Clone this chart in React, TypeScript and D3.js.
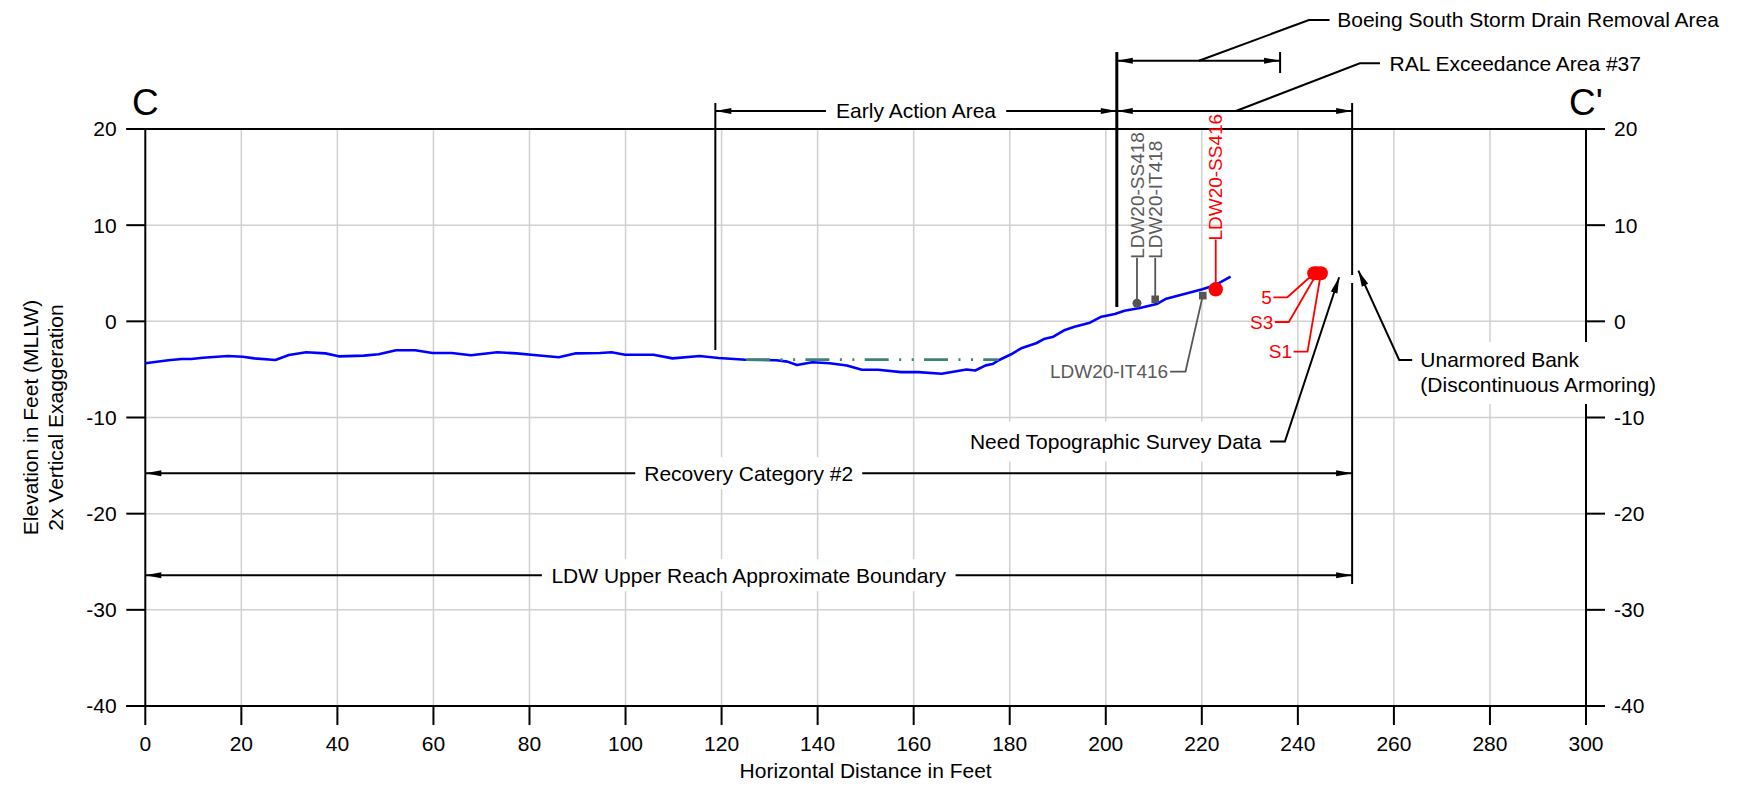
import React from 'react';
import * as d3 from 'd3';

const FONT = '"Liberation Sans", Arial, Helvetica, sans-serif';

// ---------- data ----------
const profileDistance = [0, 4.8, 7.6, 9.6, 12.0, 17.2, 20.3, 22.7, 27.1, 29.9, 33.5, 37.5, 40.3, 45.5, 48.6, 52.2, 56.2, 59.8, 63.8, 67.8, 73.3, 77.3, 80.9, 86.1, 89.7, 94.7, 97.1, 99.9, 105.8, 109.8, 115.4, 119.4, 125.0, 131.4, 133.7, 135.7, 138.9, 142.5, 146.1, 149.2, 152.6, 157.4, 161.0, 165.8, 171.0, 172.8, 175.0, 176.4, 177.8, 180.2, 182.4, 185.5, 187.1, 189.1, 191.5, 193.5, 196.7, 199.1, 201.9, 203.9, 207.1, 210.6, 212.6, 220.1, 222.9, 226.0];
const profileElevation = [-4.36, -4.05, -3.92, -3.92, -3.78, -3.6, -3.68, -3.85, -4.02, -3.5, -3.22, -3.33, -3.64, -3.57, -3.43, -3.01, -3.01, -3.29, -3.29, -3.53, -3.22, -3.33, -3.5, -3.74, -3.33, -3.29, -3.22, -3.47, -3.47, -3.85, -3.6, -3.81, -4.0, -4.04, -4.19, -4.54, -4.25, -4.36, -4.6, -5.04, -5.04, -5.28, -5.28, -5.45, -5.0, -5.11, -4.58, -4.44, -4.02, -3.45, -2.8, -2.28, -1.84, -1.6, -0.9, -0.56, -0.14, 0.48, 0.76, 1.1, 1.39, 1.8, 2.35, 3.33, 3.78, 4.64];

const dredgeDistance = [125.1, 177.6];
const dredgeElevation = [-3.98, -3.98];

const xTicks = [0, 20, 40, 60, 80, 100, 120, 140, 160, 180, 200, 220, 240, 260, 280, 300];
const yTicks = [20, 10, 0, -10, -20, -30, -40];

const sampleNames = ['LDW20-SS418', 'LDW20-IT418', 'LDW20-IT416', 'LDW20-SS416'];
const sampleDistance = [206.5, 210.3, 220.2, 222.9];
const sampleElevation = [1.88, 2.29, 2.67, 3.33];
const sampleShape = ['circle', 'square', 'square', 'bigcircle'];

const bankNames = ['5', 'S3', 'S1'];
const bankDistance = [243.4, 244.0, 244.8];
const bankElevation = [5.0, 5.0, 5.0];
const bankLabelDistance = [234.9, 235.2, 239.1];
const bankLabelElevation = [2.5, -0.07, -3.16];

const earlyActionSpan = [118.7, 202.3];
const ralSpan = [202.3, 251.3];
const boeingSpan = [202.3, 236.3];
const recoverySpan = [0, 251.3];
const ldwSpan = [0, 251.3];

// ---------- layout ----------
const W = 1737, H = 789;
const xs = d3.scaleLinear().domain([0, 300]).range([145.3, 1586]);
const ys = d3.scaleLinear().domain([-40, 20]).range([706, 129]);

let ctx: CanvasRenderingContext2D | null = null;
function textWidth(s: string, size: number) {
  if (!ctx) {
    const c = document.createElement('canvas');
    ctx = c.getContext('2d');
  }
  if (!ctx) return s.length * size * 0.55;
  ctx.font = `${size}px ${FONT}`;
  return ctx.measureText(s).width;
}

function Arrow({ tip, from, L = 16, hw = 3 }: { tip: number[]; from: number[]; L?: number; hw?: number }) {
  const dx = tip[0] - from[0], dy = tip[1] - from[1];
  const len = Math.hypot(dx, dy);
  const ux = dx / len, uy = dy / len;
  const bx = tip[0] - ux * L, by = tip[1] - uy * L;
  const px = -uy, py = ux;
  return (
    <polygon
      points={`${tip[0]},${tip[1]} ${bx + px * hw},${by + py * hw} ${bx - px * hw},${by - py * hw}`}
      fill="#000"
    />
  );
}

function DimLine({ x1, x2, y, label, size = 21 }: { x1: number; x2: number; y: number; label?: string; size?: number }) {
  const mid = (x1 + x2) / 2;
  const tw = label ? textWidth(label, size) : 0;
  return (
    <g>
      <line x1={x1} x2={x2} y1={y} y2={y} stroke="#000" strokeWidth={2} />
      <Arrow tip={[x1, y]} from={[x2, y]} />
      <Arrow tip={[x2, y]} from={[x1, y]} />
      {label && (
        <>
          <rect x={mid - tw / 2 - 9} y={y - 16} width={tw + 18} height={32} fill="#fff" />
          <text x={mid} y={y} dy="0.35em" textAnchor="middle" fontSize={size} fontFamily={FONT} fill="#000">
            {label}
          </text>
        </>
      )}
    </g>
  );
}

export default function App() {
  const x0 = xs(0), x300 = xs(300), yTop = ys(20), yBot = ys(-40);
  const tick = 19;
  const line = d3
    .line<number>()
    .x((_, i) => xs(profileDistance[i]))
    .y((_, i) => ys(profileElevation[i]));
  const profilePath = line(profileDistance) || '';
  const dredgePath =
    d3
      .line<number>()
      .x((_, i) => xs(dredgeDistance[i]))
      .y((_, i) => ys(dredgeElevation[i]))(dredgeDistance) || '';

  const gray = '#555555';
  const red = '#ff0000';

  const needTopo = 'Need Topographic Survey Data';
  const needW = textWidth(needTopo, 21);
  const needRight = xs(232.4);
  const needY = ys(-12.5);
  const unarm1 = 'Unarmored Bank';
  const unarm2 = '(Discontinuous Armoring)';
  const unX = xs(265.5);
  const unY1 = ys(-4.02);
  const unY2 = unY1 + 25;
  const unW = Math.max(textWidth(unarm1, 21), textWidth(unarm2, 21));

  const yDimEA = ys(21.87);
  const yDimBoeing = ys(27.1);

  return (
    <svg width={W} height={H} style={{ position: 'absolute', left: 0, top: 0, background: '#fff' }} fontFamily={FONT}>
      <rect x={0} y={0} width={W} height={H} fill="#fff" />
      {/* grid */}
      <g stroke="#d0d0d0" strokeWidth={1.5}>
        {xTicks.filter((v) => v > 0 && v < 300).map((v) => (
          <line key={'gx' + v} x1={xs(v)} x2={xs(v)} y1={yTop} y2={yBot} />
        ))}
        {yTicks.filter((v) => v > -40 && v < 20).map((v) => (
          <line key={'gy' + v} x1={x0} x2={x300} y1={ys(v)} y2={ys(v)} />
        ))}
      </g>
      {/* frame & ticks */}
      <g stroke="#000" strokeWidth={2}>
        <line x1={x0 - tick} x2={x300 + tick} y1={yTop} y2={yTop} />
        <line x1={x0 - tick} x2={x300 + tick} y1={yBot} y2={yBot} />
        <line x1={x0} x2={x0} y1={yTop} y2={yBot} />
        <line x1={x300} x2={x300} y1={yTop} y2={yBot} />
        {yTicks.map((v) => (
          <g key={'ty' + v}>
            <line x1={x0 - tick} x2={x0} y1={ys(v)} y2={ys(v)} />
            <line x1={x300} x2={x300 + tick} y1={ys(v)} y2={ys(v)} />
          </g>
        ))}
        {xTicks.map((v) => (
          <line key={'tx' + v} x1={xs(v)} x2={xs(v)} y1={yBot} y2={yBot + tick} />
        ))}
      </g>
      {/* tick labels */}
      <g fontSize={21} fill="#000">
        {yTicks.map((v) => (
          <g key={'ly' + v}>
            <text x={x0 - 28.6} y={ys(v)} dy="0.35em" textAnchor="end">{v}</text>
            <text x={x300 + 28} y={ys(v)} dy="0.35em" textAnchor="start">{v}</text>
          </g>
        ))}
        {xTicks.map((v) => (
          <text key={'lx' + v} x={xs(v)} y={751} textAnchor="middle">{v}</text>
        ))}
      </g>
      {/* axis titles */}
      <text x={(x0 + x300) / 2} y={778} textAnchor="middle" fontSize={21}>Horizontal Distance in Feet</text>
      <text transform={`translate(37.6,${(yTop + yBot) / 2}) rotate(-90)`} textAnchor="middle" fontSize={21}>Elevation in Feet (MLLW)</text>
      <text transform={`translate(62.6,${(yTop + yBot) / 2}) rotate(-90)`} textAnchor="middle" fontSize={21}>2x Vertical Exaggeration</text>
      {/* section letters */}
      <text x={x0} y={115} textAnchor="middle" fontSize={37}>C</text>
      <text x={x300} y={115} textAnchor="middle" fontSize={37}>C'</text>

      {/* vertical boundary lines */}
      <g stroke="#000">
        <line x1={xs(earlyActionSpan[0])} x2={xs(earlyActionSpan[0])} y1={ys(22.7)} y2={ys(-2.98)} strokeWidth={2} />
        <line x1={xs(202.3)} x2={xs(202.3)} y1={ys(28.0)} y2={ys(1.49)} strokeWidth={3} />
        <line x1={xs(ralSpan[1])} x2={xs(ralSpan[1])} y1={ys(22.7)} y2={ys(4.82)} strokeWidth={2} />
        <line x1={xs(ralSpan[1])} x2={xs(ralSpan[1])} y1={ys(3.99)} y2={ys(-27.31)} strokeWidth={2} />
        <line x1={xs(boeingSpan[1])} x2={xs(boeingSpan[1])} y1={ys(28.0)} y2={ys(25.82)} strokeWidth={2} />
      </g>

      {/* dimension lines */}
      <DimLine x1={xs(earlyActionSpan[0])} x2={xs(earlyActionSpan[1])} y={yDimEA} label="Early Action Area" />
      <DimLine x1={xs(ralSpan[0])} x2={xs(ralSpan[1])} y={yDimEA} />
      <DimLine x1={xs(boeingSpan[0])} x2={xs(boeingSpan[1])} y={yDimBoeing} />
      <DimLine x1={xs(recoverySpan[0])} x2={xs(recoverySpan[1])} y={ys(-15.8)} label="Recovery Category #2" />
      <DimLine x1={xs(ldwSpan[0])} x2={xs(ldwSpan[1])} y={ys(-26.4)} label="LDW Upper Reach Approximate Boundary" />

      {/* Boeing leader */}
      <polyline
        points={`${xs(219.4)},${yDimBoeing} ${xs(242.3)},${ys(31.33)} ${xs(246.6)},${ys(31.33)}`}
        fill="none" stroke="#000" strokeWidth={2}
      />
      <text x={xs(248.2)} y={ys(31.33)} dy="0.35em" fontSize={21}>Boeing South Storm Drain Removal Area</text>
      {/* RAL leader */}
      <polyline
        points={`${xs(227.1)},${yDimEA} ${xs(252.9)},${ys(26.83)} ${xs(257.1)},${ys(26.83)}`}
        fill="none" stroke="#000" strokeWidth={2}
      />
      <text x={xs(259.1)} y={ys(26.83)} dy="0.35em" fontSize={21}>RAL Exceedance Area #37</text>

      {/* Need topographic */}
      <rect x={needRight - needW - 9} y={needY - 20} width={needW + 17} height={40} fill="#fff" />
      <text x={needRight} y={needY} dy="0.35em" textAnchor="end" fontSize={21}>{needTopo}</text>
      <polyline
        points={`${xs(234.2)},${needY} ${xs(237.3)},${needY} ${xs(248.6)},${ys(4.58)}`}
        fill="none" stroke="#000" strokeWidth={2}
      />
      <Arrow tip={[xs(248.6), ys(4.58)]} from={[xs(237.3), needY]} hw={3.5} />

      {/* Unarmored bank */}
      <rect x={unX - 9} y={unY1 - 18} width={unW + 18} height={62} fill="#fff" />
      <text x={unX} y={unY1} dy="0.35em" fontSize={21}>{unarm1}</text>
      <text x={unX} y={unY2} dy="0.35em" fontSize={21}>{unarm2}</text>
      <polyline
        points={`${xs(263.8)},${unY1} ${xs(261.1)},${unY1} ${xs(252.6)},${ys(5.27)}`}
        fill="none" stroke="#000" strokeWidth={2}
      />
      <Arrow tip={[xs(252.6), ys(5.27)]} from={[xs(261.1), unY1]} hw={3.5} />

      {/* profile */}
      <path d={profilePath} fill="none" stroke="#0000ff" strokeWidth={2.6} strokeLinejoin="round" />
      {/* dredge line (drawn above profile) */}
      <path d={dredgePath} fill="none" stroke="#3d8273" strokeWidth={2.8} strokeDasharray="24 10.5 2 10.5 2 10.3" />

      {/* SS418 and IT418 vertical labels */}
      {[0, 1].map((i) => (
        <g key={'vs' + i}>
          <line x1={xs(sampleDistance[i])} x2={xs(sampleDistance[i])} y1={ys(sampleElevation[i])} y2={ys(6.6)} stroke={gray} strokeWidth={1.8} />
          <text transform={`translate(${xs(sampleDistance[i])},${ys(6.6) + 1}) rotate(-90)`} dy="0.35em" fontSize={19} fill="#5a5a5a">
            {sampleNames[i]}
          </text>
        </g>
      ))}
      {/* IT416 */}
      <polyline
        points={`${xs(220.2)},${ys(2.67)} ${xs(216.6)},${ys(-5.24)} ${xs(213.4)},${ys(-5.24)}`}
        fill="none" stroke={gray} strokeWidth={1.8}
      />
      <text x={xs(213.0)} y={ys(-5.24)} dy="0.35em" textAnchor="end" fontSize={19} fill="#5a5a5a">{sampleNames[2]}</text>
      {/* SS416 red */}
      <line x1={xs(sampleDistance[3])} x2={xs(sampleDistance[3])} y1={ys(sampleElevation[3])} y2={ys(8.5)} stroke={red} strokeWidth={1.8} />
      <text transform={`translate(${xs(sampleDistance[3])},${ys(8.5) + 1}) rotate(-90)`} dy="0.35em" fontSize={19} fill={red}>
        {sampleNames[3]}
      </text>

      {/* markers */}
      {sampleDistance.map((d, i) => {
        const cx = xs(d), cy = ys(sampleElevation[i]);
        if (sampleShape[i] === 'circle') return <circle key={'m' + i} cx={cx} cy={cy} r={4.5} fill={gray} />;
        if (sampleShape[i] === 'square') return <rect key={'m' + i} x={cx - 3.8} y={cy - 3.8} width={7.6} height={7.6} fill={gray} />;
        return <circle key={'m' + i} cx={cx} cy={cy} r={7.2} fill={red} />;
      })}

      {/* bank samples */}
      {bankNames.map((n, i) => {
        const lx = xs(bankLabelDistance[i]);
        const ly = ys(bankLabelElevation[i]);
        const lx2 = lx + 14;
        return (
          <g key={'b' + i}>
            <polyline
              points={`${lx},${ly} ${lx2},${ly} ${xs(bankDistance[i])},${ys(bankElevation[i])}`}
              fill="none" stroke={red} strokeWidth={1.8}
            />
            <text x={lx - 1.5} y={ly} dy="0.35em" textAnchor="end" fontSize={19} fill={red}>{n}</text>
          </g>
        );
      })}
      {bankDistance.map((d, i) => (
        <circle key={'bc' + i} cx={xs(d)} cy={ys(bankElevation[i])} r={7} fill={red} />
      ))}
    </svg>
  );
}
